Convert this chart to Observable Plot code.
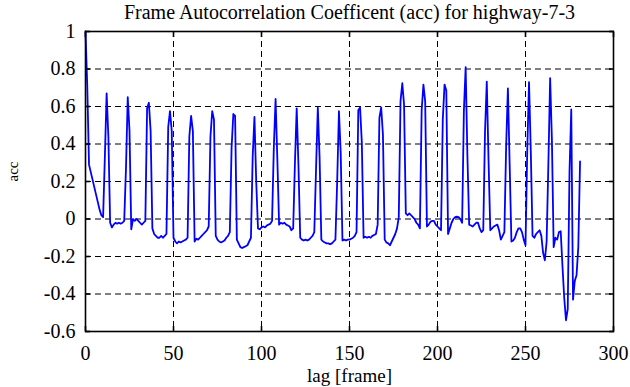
<!DOCTYPE html>
<html>
<head>
<meta charset="utf-8">
<script src="https://cdn.jsdelivr.net/npm/d3@7"></script>
<script src="https://cdn.jsdelivr.net/npm/@observablehq/plot@0.6"></script>
<style>
  html, body { margin: 0; padding: 0; background: #fff; }
  svg { display: block; }
</style>
</head>
<body>
<div id="chart"></div>
<script>
const title = "Frame Autocorrelation Coefficent (acc) for highway-7-3";
const xLabel = "lag [frame]";
const yLabel = "acc";
const xTicks = [0, 50, 100, 150, 200, 250, 300];
const yTicks = [-0.6, -0.4, -0.2, 0, 0.2, 0.4, 0.6, 0.8, 1];
const yTickLabels = ["-0.6", "-0.4", "-0.2", "0", "0.2", "0.4", "0.6", "0.8", "1"];

// acc value per lag (lag = index, 0..281)
const acc = [
  1.0, 0.71, 0.29, 0.25, 0.21, 0.17, 0.13, 0.09, 0.05, 0.02, 0.01,
  0.33, 0.67, 0.44, -0.02, -0.045, -0.03, -0.02, -0.025, -0.02, -0.025, -0.02, -0.01,
  0.27, 0.65, 0.47, -0.055, 0.0, -0.01, 0.0, -0.01, -0.02, -0.03, -0.02, -0.01,
  0.59, 0.62, 0.47, -0.05, -0.08, -0.09, -0.10, -0.10, -0.09, -0.10, -0.09, -0.08,
  0.49, 0.575, 0.47, -0.10, -0.12, -0.13, -0.12, -0.125, -0.12, -0.115, -0.11, -0.10,
  0.44, 0.55, 0.47, -0.12, -0.105, -0.11, -0.10, -0.09, -0.08, -0.07, -0.06, -0.04,
  0.44, 0.575, 0.53, -0.09, -0.11, -0.12, -0.125, -0.12, -0.115, -0.10, -0.09, -0.07,
  0.38, 0.56, 0.55, -0.11, -0.13, -0.15, -0.155, -0.15, -0.145, -0.14, -0.12, -0.10,
  0.335, 0.545, 0.2, -0.05, -0.055, -0.045, -0.04, -0.045, -0.035, -0.03, -0.025, -0.01,
  0.38, 0.64, 0.32, -0.03, -0.02, -0.025, -0.02, -0.03, -0.035, -0.04, -0.06, -0.05,
  0.30, 0.59, 0.285, -0.10, -0.11, -0.115, -0.11, -0.115, -0.11, -0.10, -0.09, -0.07,
  0.27, 0.595, 0.33, -0.11, -0.12, -0.125, -0.13, -0.13, -0.135, -0.13, -0.12, -0.11,
  0.2, 0.575, 0.355, -0.115, -0.11, -0.115, -0.11, -0.11, -0.105, -0.10, -0.09, -0.07,
  0.58, 0.595, 0.41, -0.10, -0.095, -0.10, -0.095, -0.10, -0.09, -0.085, -0.08, -0.03,
  0.54, 0.595, 0.45, -0.11, -0.125, -0.13, -0.14, -0.12, -0.10, -0.08, -0.05, 0.01,
  0.63, 0.724, 0.61, 0.03, 0.02, 0.03, 0.02, 0.01, 0.0, -0.02, -0.03, -0.05,
  0.58, 0.717, 0.627, -0.04, -0.03, -0.015, -0.01, -0.01, -0.03, -0.04, -0.05, -0.06,
  0.53, 0.717, 0.685, -0.08, -0.05, -0.02, 0.0, 0.01, 0.012, 0.01, 0.0, -0.02,
  0.58, 0.81, 0.333, -0.03, -0.035, -0.04, -0.03, -0.02, -0.02, -0.05, -0.07, -0.06,
  0.467, 0.733, 0.312, -0.06, -0.05, -0.04, -0.035, -0.03, -0.06, -0.11, -0.09, -0.07,
  0.387, 0.696, 0.29, -0.12, -0.115, -0.10, -0.07, -0.05, -0.05, -0.07, -0.11, -0.14,
  0.365, 0.73, 0.365, -0.09, -0.10, -0.08, -0.07, -0.06, -0.09, -0.18, -0.22, -0.12,
  0.296, 0.751, 0.424, -0.15, -0.10, -0.11, -0.07, -0.065, -0.25, -0.42, -0.54, -0.48,
  0.25, 0.584, -0.43, -0.33, -0.30, -0.15, 0.307
];

const font = "'Times New Roman', 'Liberation Serif', serif";

const chart = Plot.plot({
  width: 630,
  height: 387,
  marginLeft: 85,
  marginRight: 17,
  marginTop: 31,
  marginBottom: 56,
  style: { fontFamily: font, fontSize: "20px", color: "black", background: "white" },
  x: { domain: [0, 300] },
  y: { domain: [-0.6, 1] },
  marks: [
    Plot.gridX(xTicks.slice(1, -1), { stroke: "black", strokeOpacity: 1, strokeDasharray: "6,4", strokeWidth: 1 }),
    Plot.gridY(yTicks.slice(1, -1), { stroke: "black", strokeOpacity: 1, strokeDasharray: "6,4", strokeWidth: 1 }),
    Plot.line(acc, { x: (d, i) => i, y: d => d, stroke: "#0000ff", strokeWidth: 1.8 }),
    Plot.frame({ stroke: "black", strokeWidth: 1.6 }),
    Plot.text(xTicks, { x: d => d, text: d => String(d), frameAnchor: "bottom", dy: 22, fontSize: 20, fontFamily: font, lineAnchor: "middle" }),
    Plot.axisX(xTicks, { anchor: "bottom", tickSize: -5, tickFormat: () => "", strokeWidth: 1.6, label: null }),
    Plot.axisX(xTicks, { anchor: "top", tickSize: -5, tickFormat: () => "", strokeWidth: 1.6, label: null }),
    Plot.text(yTicks, { y: d => d, text: (d, i) => yTickLabels[i], frameAnchor: "left", dx: -10, textAnchor: "end", fontSize: 20, fontFamily: font, lineAnchor: "middle" }),
    Plot.axisY(yTicks, { anchor: "left", tickSize: -5, tickFormat: () => "", strokeWidth: 1.6, label: null }),
    Plot.axisY(yTicks, { anchor: "right", tickSize: -5, tickFormat: () => "", strokeWidth: 1.6, label: null }),
    Plot.text([title], { text: d => d, frameAnchor: "top", dy: -19, fontSize: 20, fontFamily: font, lineAnchor: "middle" }),
    Plot.text([xLabel], { text: d => d, frameAnchor: "bottom", dy: 44, fontSize: 19, fontFamily: font, lineAnchor: "middle" }),
    Plot.text([yLabel], { text: d => d, frameAnchor: "left", dx: -72, fontSize: 15, fontFamily: font, rotate: -90, lineAnchor: "middle" })
  ]
});
document.getElementById("chart").appendChild(chart);
</script>
</body>
</html>
